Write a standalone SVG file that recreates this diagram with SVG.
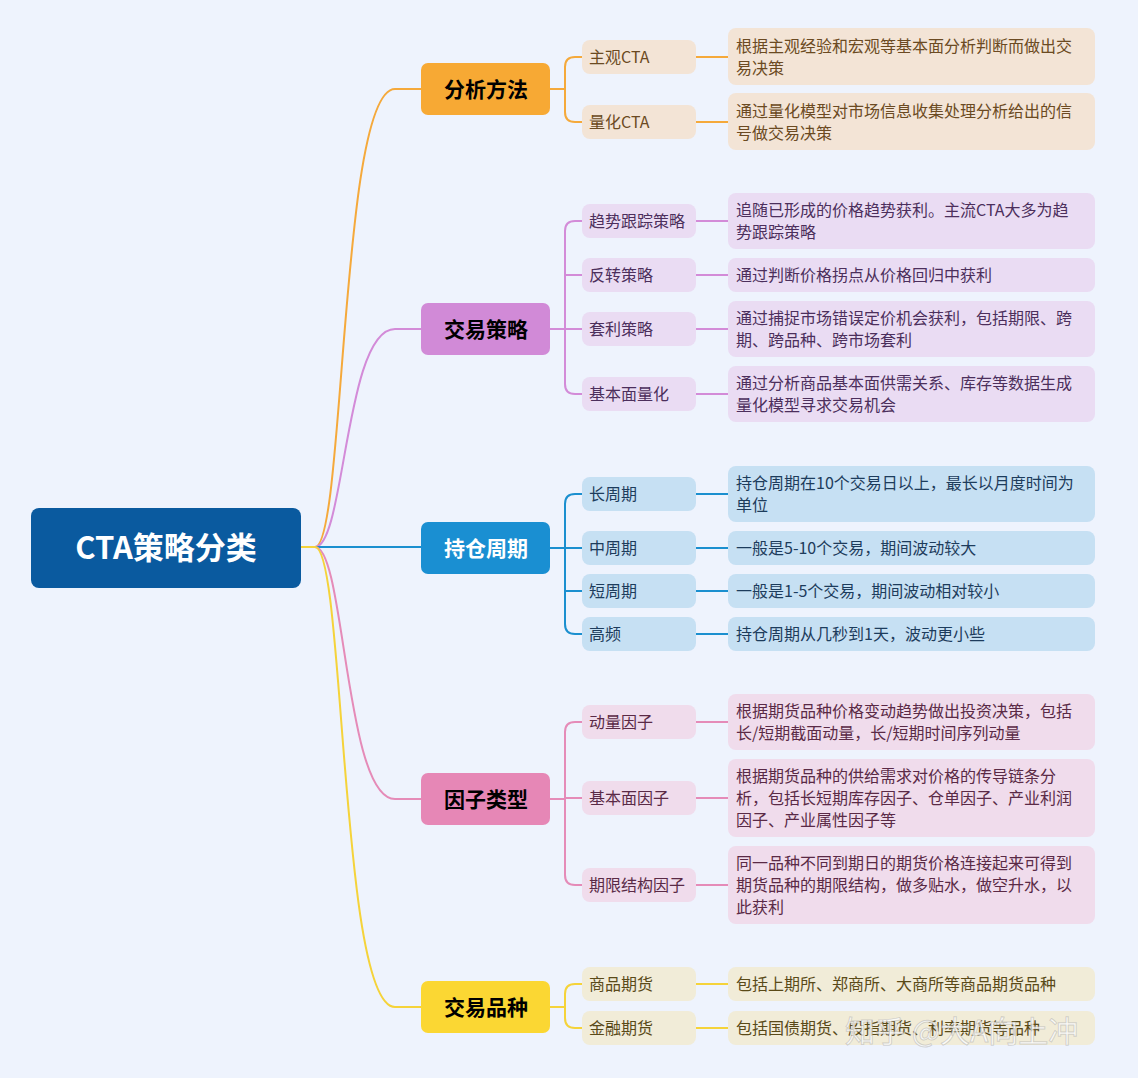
<svg xmlns="http://www.w3.org/2000/svg" width="1138" height="1078" viewBox="0 0 1138 1078">
<style>
text{font-family:"Noto Sans CJK SC","Noto Sans",sans-serif}
.l1{font-size:21px;font-weight:bold;text-anchor:middle}
.t{font-size:16px}
.c{fill:none;stroke-width:2}
.o{stroke:#f5a93b}.p{stroke:#d38bd8}.b{stroke:#1b8fcf}.k{stroke:#e58bb8}.y{stroke:#f5d33a}
.fo{fill:#f3e4d6}.fp{fill:#eadcf3}.fb{fill:#c6e0f3}.fk{fill:#f0dcec}.fy{fill:#f1ecd8}
.to{fill:#6b4a22}.tp{fill:#4c2f5c}.tb{fill:#1d3c5c}.tk{fill:#5a2a46}.ty{fill:#5a4a18}
</style>
<rect width="1138" height="1078" fill="#eef3fd"/>
<g id="connectors">
<path class="c o" d="M300,547 H315 C345,547 340,89 395,89 H421"/>
<path class="c p" d="M300,547 H315 C345,547 345,329 395,329 H421"/>
<path class="c b" d="M300,547 H421"/>
<path class="c k" d="M300,547 H315 C345,547 345,799 395,799 H421"/>
<path class="c y" d="M300,547 H315 C345,547 340,1007 395,1007 H421"/>
<path class="c o" d="M550,89 H565 M582,57 H575 Q565,57 565,67 V112 Q565,122 575,122 H582 M696,57 H728 M696,122 H728"/>
<path class="c p" d="M550,329 H565 M582,221 H575 Q565,221 565,231 V384 Q565,394 575,394 H582 M565,275 H582 M565,329 H582 M696,221 H728 M696,275 H728 M696,329 H728 M696,394 H728"/>
<path class="c b" d="M550,548 H582 M582,494 H575 Q565,494 565,504 V624 Q565,634 575,634 H582 M565,591 H582 M696,494 H728 M696,548 H728 M696,591 H728 M696,634 H728"/>
<path class="c k" d="M550,799 H565 M582,722 H575 Q565,722 565,732 V875 Q565,885 575,885 H582 M565,798 H582 M696,722 H728 M696,798 H728 M696,885 H728"/>
<path class="c y" d="M550,1007 H565 M582,984 H575 Q565,984 565,994 V1018 Q565,1028 575,1028 H582 M696,984 H728 M696,1028 H728"/>
</g>
<g id="root"><rect x="31" y="508" width="270" height="80" rx="8" fill="#0a5a9f"/><text x="166" y="559" font-size="31" font-weight="bold" fill="#fff" text-anchor="middle">CTA策略分类</text></g>
<g id="n1"><rect x="421" y="63" width="129" height="52" rx="7" fill="#f7a934"/><text class="l1" x="486" y="97">分析方法</text></g>
<g id="n2"><rect x="421" y="303" width="129" height="52" rx="7" fill="#d18ad7"/><text class="l1" x="486" y="337">交易策略</text></g>
<g id="n3"><rect x="421" y="522" width="129" height="52" rx="7" fill="#1a8fd2"/><text class="l1" x="486" y="556" fill="#fff">持仓周期</text></g>
<g id="n4"><rect x="421" y="773" width="129" height="52" rx="7" fill="#e687b6"/><text class="l1" x="486" y="807">因子类型</text></g>
<g id="n5"><rect x="421" y="981" width="129" height="52" rx="7" fill="#fbd733"/><text class="l1" x="486" y="1015">交易品种</text></g>

<g id="a1"><rect class="fo" x="582" y="40" width="114" height="34" rx="8"/><text class="t to" x="589" y="63">主观CTA</text></g>
<g id="a2"><rect class="fo" x="582" y="105" width="114" height="34" rx="8"/><text class="t to" x="589" y="128">量化CTA</text></g>
<g id="a1d"><rect class="fo" x="728" y="28" width="367" height="57" rx="8"/><text class="t to" x="736" y="52">根据主观经验和宏观等基本面分析判断而做出交</text><text class="t to" x="736" y="74">易决策</text></g>
<g id="a2d"><rect class="fo" x="728" y="93" width="367" height="57" rx="8"/><text class="t to" x="736" y="117">通过量化模型对市场信息收集处理分析给出的信</text><text class="t to" x="736" y="139">号做交易决策</text></g>

<g id="b1"><rect class="fp" x="582" y="204" width="114" height="34" rx="8"/><text class="t tp" x="589" y="227">趋势跟踪策略</text></g>
<g id="b2"><rect class="fp" x="582" y="258" width="114" height="34" rx="8"/><text class="t tp" x="589" y="281">反转策略</text></g>
<g id="b3"><rect class="fp" x="582" y="312" width="114" height="34" rx="8"/><text class="t tp" x="589" y="335">套利策略</text></g>
<g id="b4"><rect class="fp" x="582" y="377" width="114" height="34" rx="8"/><text class="t tp" x="589" y="400">基本面量化</text></g>
<g id="b1d"><rect class="fp" x="728" y="193" width="367" height="56" rx="8"/><text class="t tp" x="736" y="216">追随已形成的价格趋势获利。主流CTA大多为趋</text><text class="t tp" x="736" y="238">势跟踪策略</text></g>
<g id="b2d"><rect class="fp" x="728" y="258" width="367" height="34" rx="8"/><text class="t tp" x="736" y="281">通过判断价格拐点从价格回归中获利</text></g>
<g id="b3d"><rect class="fp" x="728" y="301" width="367" height="56" rx="8"/><text class="t tp" x="736" y="324">通过捕捉市场错误定价机会获利，包括期限、跨</text><text class="t tp" x="736" y="346">期、跨品种、跨市场套利</text></g>
<g id="b4d"><rect class="fp" x="728" y="366" width="367" height="56" rx="8"/><text class="t tp" x="736" y="389">通过分析商品基本面供需关系、库存等数据生成</text><text class="t tp" x="736" y="411">量化模型寻求交易机会</text></g>

<g id="c1"><rect class="fb" x="582" y="477" width="114" height="34" rx="8"/><text class="t tb" x="589" y="500">长周期</text></g>
<g id="c2"><rect class="fb" x="582" y="531" width="114" height="34" rx="8"/><text class="t tb" x="589" y="554">中周期</text></g>
<g id="c3"><rect class="fb" x="582" y="574" width="114" height="34" rx="8"/><text class="t tb" x="589" y="597">短周期</text></g>
<g id="c4"><rect class="fb" x="582" y="617" width="114" height="34" rx="8"/><text class="t tb" x="589" y="640">高频</text></g>
<g id="c1d"><rect class="fb" x="728" y="466" width="367" height="56" rx="8"/><text class="t tb" x="736" y="489">持仓周期在10个交易日以上，最长以月度时间为</text><text class="t tb" x="736" y="511">单位</text></g>
<g id="c2d"><rect class="fb" x="728" y="531" width="367" height="34" rx="8"/><text class="t tb" x="736" y="554">一般是5-10个交易，期间波动较大</text></g>
<g id="c3d"><rect class="fb" x="728" y="574" width="367" height="34" rx="8"/><text class="t tb" x="736" y="597">一般是1-5个交易，期间波动相对较小</text></g>
<g id="c4d"><rect class="fb" x="728" y="617" width="367" height="34" rx="8"/><text class="t tb" x="736" y="640">持仓周期从几秒到1天，波动更小些</text></g>

<g id="d1"><rect class="fk" x="582" y="705" width="114" height="34" rx="8"/><text class="t tk" x="589" y="728">动量因子</text></g>
<g id="d2"><rect class="fk" x="582" y="781" width="114" height="34" rx="8"/><text class="t tk" x="589" y="804">基本面因子</text></g>
<g id="d3"><rect class="fk" x="582" y="868" width="114" height="34" rx="8"/><text class="t tk" x="589" y="891">期限结构因子</text></g>
<g id="d1d"><rect class="fk" x="728" y="694" width="367" height="56" rx="8"/><text class="t tk" x="736" y="717">根据期货品种价格变动趋势做出投资决策，包括</text><text class="t tk" x="736" y="739">长/短期截面动量，长/短期时间序列动量</text></g>
<g id="d2d"><rect class="fk" x="728" y="759" width="367" height="78" rx="8"/><text class="t tk" x="736" y="782">根据期货品种的供给需求对价格的传导链条分</text><text class="t tk" x="736" y="804">析，包括长短期库存因子、仓单因子、产业利润</text><text class="t tk" x="736" y="826">因子、产业属性因子等</text></g>
<g id="d3d"><rect class="fk" x="728" y="846" width="367" height="78" rx="8"/><text class="t tk" x="736" y="869">同一品种不同到期日的期货价格连接起来可得到</text><text class="t tk" x="736" y="891">期货品种的期限结构，做多贴水，做空升水，以</text><text class="t tk" x="736" y="913">此获利</text></g>

<g id="e1"><rect class="fy" x="582" y="967" width="114" height="34" rx="8"/><text class="t ty" x="589" y="990">商品期货</text></g>
<g id="e2"><rect class="fy" x="582" y="1011" width="114" height="34" rx="8"/><text class="t ty" x="589" y="1034">金融期货</text></g>
<g id="e1d"><rect class="fy" x="728" y="967" width="367" height="34" rx="8"/><text class="t ty" x="736" y="990">包括上期所、郑商所、大商所等商品期货品种</text></g>
<g id="e2d"><rect class="fy" x="728" y="1011" width="367" height="34" rx="8"/><text class="t ty" x="736" y="1034">包括国债期货、股指期货、利率期货等品种</text></g>
<text x="845" y="1042" font-size="30" fill="#ffffff" fill-opacity="0.75" stroke="#999" stroke-opacity="0.4">知乎 @大A向上冲</text>
</svg>
